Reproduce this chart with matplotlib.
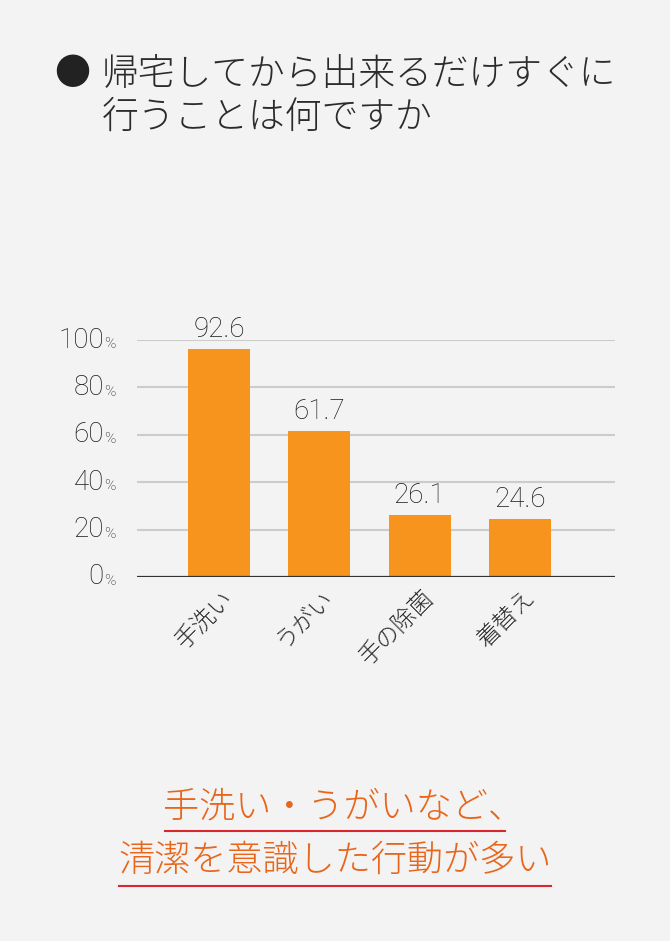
import matplotlib.pyplot as plt
from matplotlib.transforms import blended_transform_factory

plt.rcParams['font.family'] = ['Noto Sans CJK JP', 'DejaVu Sans']

categories = ['手洗い', 'うがい', '手の除菌', '着替え']
bar_heights = [96.2, 61.7, 26.1, 24.6]   # drawn heights as measured in the picture
value_labels = ['92.6', '61.7', '26.1', '24.6']
yticks = [0, 20, 40, 60, 80, 100]

title_lines = ['帰宅してから出来るだけすぐに', '行うことは何ですか']
note_lines = ['手洗い・うがいなど、', '清潔を意識した行動が多い']

bg = '#f3f3f3'
bar_color = '#f7941d'
text_color = '#2b2b2b'
num_color = '#1a1a1a'
note_color = '#e8651a'
line_red = '#d9262f'
num_font = ['Roboto', 'DejaVu Sans']

W, H = 670, 941
fig = plt.figure(figsize=(W / 100, H / 100), dpi=100, facecolor=bg)

def fx(px):
    return px / W

def fy(py):
    return 1 - py / H

ax = fig.add_axes([fx(137), fy(577), fx(615) - fx(137), fy(340) - fy(577)])
ax.set_facecolor(bg)
x = list(range(len(categories)))
ax.bar(x, bar_heights, width=0.62, color=bar_color, zorder=3)
ax.set_xlim(-0.82, 3.95)
ax.set_ylim(0, 100)

for t in yticks[1:]:
    ax.axhline(t, color='#cccccc', lw=1.5, zorder=1)
ax.axhline(0, color='#333333', lw=1.6, zorder=4)
for s in ax.spines.values():
    s.set_visible(False)
ax.set_xticks([])
ax.set_yticks([])

# y tick labels with a smaller % sign
tr = blended_transform_factory(fig.transFigure, ax.transData)
for t in yticks:
    ax.text(fx(104), t, str(t), transform=tr, ha='right', va='center',
            fontsize=20, color=num_color, family=num_font, fontweight='light')
    ax.text(fx(104), t - 1.8, '%', transform=tr, ha='left', va='center',
            fontsize=11, color=num_color, family=num_font, fontweight='light')

for xi, h, lab in zip(x, bar_heights, value_labels):
    ax.text(xi, h + 2.5, lab, ha='center', va='bottom', fontsize=20,
            color=num_color, family=num_font, fontweight='light')

for xi, cat in zip(x, categories):
    ax.text(xi + 0.02, -3.5, cat, ha='right', va='top', rotation=45,
            rotation_mode='anchor', fontsize=17, color=text_color,
            fontweight='light')

# title
fig.text(fx(72), fy(74), '●', ha='center', va='center', fontsize=26, color='#222222')
fig.text(fx(102), fy(75), title_lines[0], ha='left', va='center', fontsize=26.5,
         color=text_color, fontweight='light')
fig.text(fx(102), fy(118), title_lines[1], ha='left', va='center', fontsize=26.5,
         color=text_color, fontweight='light')

# bottom note with red underlines
fig.text(fx(344), fy(807), note_lines[0], ha='center', va='center', fontsize=26,
         color=note_color, fontweight='light')
fig.text(fx(335), fy(861), note_lines[1], ha='center', va='center', fontsize=26,
         color=note_color, fontweight='light')
fig.add_artist(plt.Line2D([fx(165), fx(505)], [fy(831), fy(831)], color=line_red, lw=1.5))
fig.add_artist(plt.Line2D([fx(119), fx(551)], [fy(886), fy(886)], color=line_red, lw=1.5))

fig.savefig('out.png', dpi=100, facecolor=bg)
